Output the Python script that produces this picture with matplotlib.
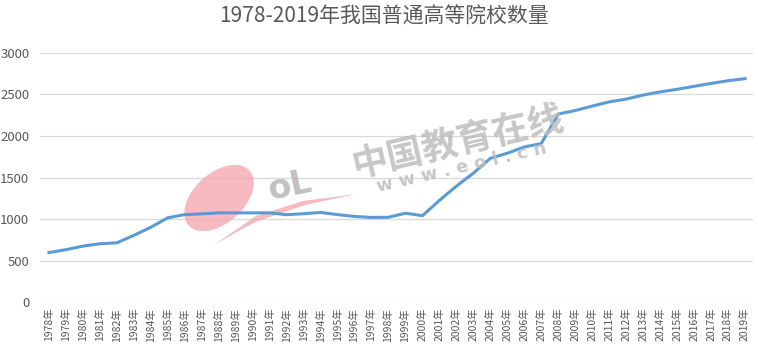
import matplotlib.pyplot as plt
from matplotlib.patches import Ellipse, Polygon

plt.rcParams['font.family'] = ['Noto Sans CJK SC', 'DejaVu Sans']

years = [str(y) + "年" for y in range(1978, 2020)]
counts = [598, 633, 675, 704, 715, 805, 902, 1016, 1054, 1063,
          1075, 1075, 1075, 1075, 1053, 1065, 1080, 1054, 1032, 1020,
          1022, 1071, 1041, 1225, 1396, 1552, 1731, 1792, 1867, 1908,
          2263, 2305, 2358, 2409, 2442, 2491, 2529, 2560, 2596, 2631,
          2663, 2688]
yticks = [0, 500, 1000, 1500, 2000, 2500, 3000]

grey = "#595959"

fig = plt.figure(figsize=(7.58, 3.53), dpi=100)
ax = fig.add_axes([0.0534, 0.1436, 0.9406, 0.7071])

# watermark, placed in pixel units (y from top)
px = fig.dpi_scale_trans
def pt(x, y):
    return (x / 100, (353 - y) / 100)

pink = "#f5a3ad"
ax.add_patch(Ellipse(pt(219, 198), 0.82, 0.5, angle=42, transform=px,
                     color=pink, alpha=0.75, zorder=1, lw=0, clip_on=False))
swoosh = [pt(212, 246), pt(255, 222), pt(305, 205), pt(356, 194),
          pt(303, 201), pt(256, 216), pt(214, 245)]
ax.add_patch(Polygon(swoosh, closed=True, transform=px, color=pink,
                     alpha=0.75, zorder=1, lw=0, clip_on=False))
fig.text(*pt(290, 186), "oL", transform=px, fontsize=24, color="#b5b0b0",
         alpha=0.8, rotation=12, ha="center", va="center", fontweight="bold",
         family="DejaVu Sans", zorder=0)
fig.text(*pt(458, 142), "中国教育在线", transform=px, fontsize=26,
         color="#bdbdbd", alpha=0.85, rotation=13, ha="center", va="center",
         fontweight="bold", zorder=0)
fig.text(*pt(462, 168), "w w w . e o l . c n", transform=px, fontsize=13,
         color="#bdbdbd", alpha=0.85, rotation=13, ha="center", va="center",
         fontweight="bold", family="DejaVu Sans", zorder=0)

ax.plot(range(len(years)), counts, color="#5B9BD5", lw=2.2, zorder=3,
        solid_joinstyle="round")

ax.set_xlim(-0.5, len(years) - 0.5)
ax.set_ylim(0, 3000)
ax.set_yticks(yticks)
ax.set_xticks(range(len(years)))
ax.set_xticklabels(years, rotation=90, fontsize=7.5, color=grey)
ax.tick_params(axis="y", labelsize=9.5, labelcolor=grey, length=0, pad=8)
ax.tick_params(axis="x", length=0, pad=4)
ax.grid(axis="y", color="#d9d9d9", lw=0.9)
ax.set_axisbelow(True)
for s in ax.spines.values():
    s.set_visible(False)

fig.text(0.506, 0.953, "1978-2019年我国普通高等院校数量", fontsize=15,
         color=grey, ha="center", va="center")

fig.savefig("out.png", dpi=100)
